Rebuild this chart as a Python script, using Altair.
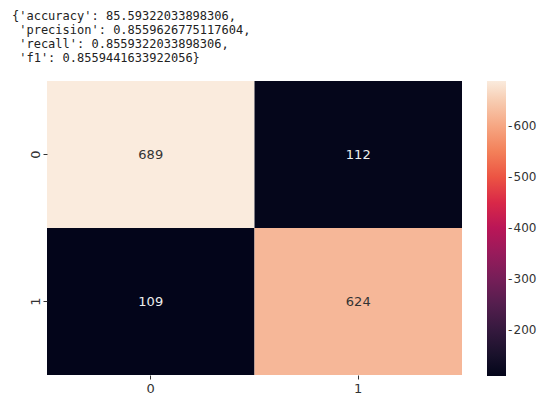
import altair as alt
import pandas as pd

actual = ["0", "0", "1", "1"]
predicted = ["0", "1", "0", "1"]
counts = [689, 112, 109, 624]
labels = ["0", "1"]
rocket = ["#03051a", "#221331", "#451c47", "#6a1f56", "#921c5b", "#b91657",
          "#dd2c45", "#f06043", "#f5936a", "#f6bc9f", "#faebdd"]
title_lines = [
    "{'accuracy': 85.59322033898306,",
    "\u200b\u00a0'precision': 0.8559626775117604,",
    "\u200b\u00a0'recall': 0.8559322033898306,",
    "\u200b\u00a0'f1': 0.8559441633922056}",
]

df = pd.DataFrame({"actual": actual, "predicted": predicted, "count": counts})

base = alt.Chart(df).encode(
    x=alt.X("predicted:O", sort=labels, title=None,
            axis=alt.Axis(labelAngle=0, domain=False, tickSize=4, labelPadding=3,
                          labelFontSize=13, labelColor="#333333", tickColor="#333333",
                          labelFont="DejaVu Sans")),
    y=alt.Y("actual:O", sort=labels, title=None,
            axis=alt.Axis(labelAngle=270, domain=False, tickSize=4, labelPadding=8,
                          labelFontSize=13, labelColor="#333333", tickColor="#333333",
                          labelFont="DejaVu Sans", labelBaseline="middle")),
)

heat = base.mark_rect().encode(
    color=alt.Color("count:Q",
                    scale=alt.Scale(domain=[109, 689], range=rocket),
                    legend=alt.Legend(title=None, orient="right", direction="vertical",
                                      gradientLength=295, gradientThickness=19,
                                      offset=25, values=[200, 300, 400, 500, 600],
                                      labelExpr="'-\u200a' + datum.label",
                                      labelFontSize=12, labelColor="#333333",
                                      labelFont="DejaVu Sans", labelOffset=2,
                                      gradientStrokeWidth=0)),
)

txt = base.mark_text(fontSize=13, font="DejaVu Sans").encode(
    text="count:Q",
    color=alt.condition(alt.datum.count > 400, alt.value("#333333"), alt.value("#eeeeee")),
)

chart = (heat + txt).properties(
    width=415, height=294,
    title=alt.TitleParams(text=title_lines, anchor="start", frame="group", dx=-35,
                          font="DejaVu Sans Mono", fontSize=12, fontWeight="normal",
                          lineHeight=14, color="#222222", offset=16),
    autosize=alt.AutoSizeParams(type="none"),
    padding={"left": 39, "top": 73, "right": 75, "bottom": 20},
).configure_view(stroke=None).configure_axis(grid=False)

chart.save("out.html", embed_options={"renderer": "svg", "actions": False})
